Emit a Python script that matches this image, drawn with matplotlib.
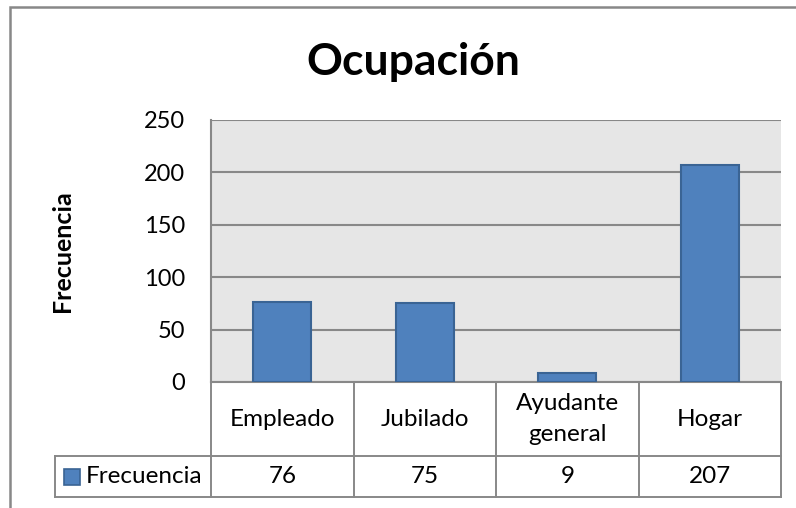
import matplotlib
matplotlib.use("Agg")
import matplotlib.pyplot as plt
from matplotlib.patches import Rectangle
from matplotlib.transforms import blended_transform_factory

categories = ["Empleado", "Jubilado", "Ayudante\ngeneral", "Hogar"]
values = [76, 75, 9, 207]
series_name = "Frecuencia"
title = "Ocupación"
yticks = [0, 50, 100, 150, 200, 250]

plt.rcParams['font.family'] = ['Lato', 'DejaVu Sans']

W, H = 796, 508
fig = plt.figure(figsize=(W / 100, H / 100), dpi=100)
fig.patch.set_facecolor('white')

GRID = '#888888'
BAR = '#4F81BD'
BAR_EDGE = '#3A6494'
FS = 17
FT = 17.5

# plot area in pixels
L, R, T, B = 211, 781, 120, 382
ax = fig.add_axes([L / W, (H - B) / H, (R - L) / W, (B - T) / H])
ax.set_facecolor('#E6E6E6')

x = list(range(len(categories)))
ax.bar(x, values, width=0.41, color=BAR, edgecolor=BAR_EDGE, linewidth=1.5, zorder=3)
ax.set_xlim(-0.5, len(categories) - 0.5)
ax.set_ylim(0, 250)
ax.set_yticks(yticks)
ax.set_yticklabels([str(t) for t in yticks], fontsize=FS)
ax.set_xticks([])
ax.tick_params(axis='y', length=0, pad=26 / 1.389)
ax.yaxis.grid(True, color=GRID, linewidth=1.5, zorder=1)
ax.set_axisbelow(True)
for s in ax.spines.values():
    s.set_color(GRID)
    s.set_linewidth(1.5)
ax.spines['right'].set_visible(False)
ax.spines['top'].set_visible(False)

ax.set_ylabel(series_name, fontsize=18, fontweight='bold')
ax.yaxis.set_label_coords((74 - L) / (R - L), (B - 251) / (B - T))

fig.text(413 / W, 1 - 62 / H, title, fontsize=32, fontweight='bold',
         ha='center', va='center')

# data table (x in data units, y in axes fraction)
bt = blended_transform_factory(ax.transData, ax.transAxes)
y0 = 0.0
y1 = -(456 - B) / (B - T)
y2 = -(497 - B) / (B - T)
xl = (55 - L) / (R - L)
n = len(categories)
lk = dict(color=GRID, linewidth=1.4, clip_on=False, solid_capstyle='projecting')
# horizontal lines
ax.plot([-0.5, n - 0.5], [y1, y1], transform=bt, **lk)
ax.plot([-0.5, n - 0.5], [y2, y2], transform=bt, **lk)
ax.plot([xl, 0], [y1, y1], transform=ax.transAxes, **lk)
ax.plot([xl, 0], [y2, y2], transform=ax.transAxes, **lk)
ax.plot([xl, xl], [y1, y2], transform=ax.transAxes, **lk)
# vertical lines
for i in range(n + 1):
    ax.plot([i - 0.5, i - 0.5], [y0, y2], transform=bt, **lk)
# texts
for i, (c, v) in enumerate(zip(categories, values)):
    ax.text(i, (y0 + y1) / 2, c, transform=bt, ha='center', va='center',
            fontsize=FT, linespacing=1.6)
    ax.text(i, (y1 + y2) / 2, str(v), transform=bt, ha='center', va='center', fontsize=FT)
ax.text((86 - L) / (R - L), (y1 + y2) / 2, series_name, transform=ax.transAxes,
        ha='left', va='center', fontsize=FT)

# legend swatch
sw = 16 / (R - L)
sh = 16 / (B - T)
ax.add_patch(Rectangle(((64 - L) / (R - L), (y1 + y2) / 2 - sh / 2), sw, sh,
                       transform=ax.transAxes, clip_on=False,
                       facecolor=BAR, edgecolor=BAR_EDGE, linewidth=1.2))

# outer chart border
fig.add_artist(Rectangle((10 / W, -0.1), 1.2, (H - 7) / H + 0.1, transform=fig.transFigure,
                         fill=False, edgecolor=GRID, linewidth=1.8))

fig.savefig('out.png', dpi=100)
